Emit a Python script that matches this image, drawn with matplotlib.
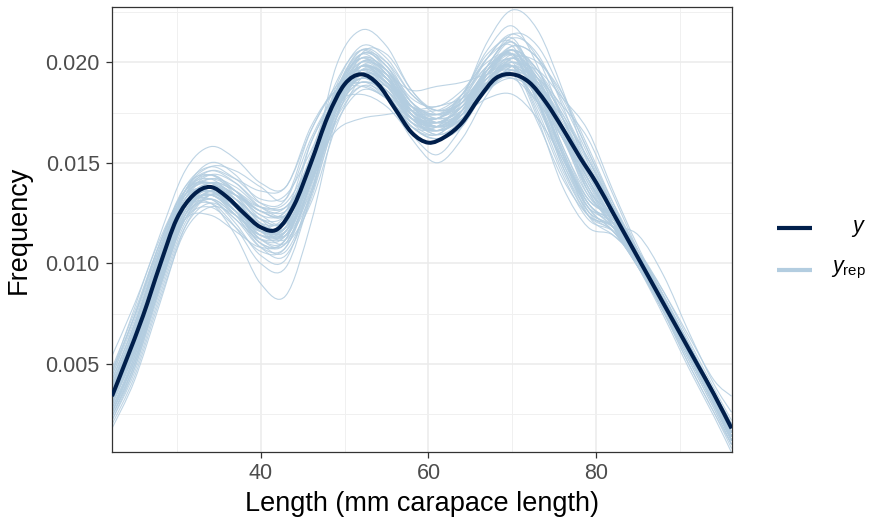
import matplotlib
matplotlib.use("Agg")
import matplotlib.pyplot as plt
from matplotlib.lines import Line2D
from matplotlib.path import Path
from matplotlib.patches import PathPatch
import numpy as np

# ---------------- data ----------------
# observed density y, on a 2-mm grid
x_obs = [22.3, 24, 26, 28, 30, 32, 34, 36, 38, 40, 42, 44, 46, 48, 50, 52, 54, 56, 58,
         60, 62, 64, 66, 68, 70, 72, 74, 76, 78, 80, 82, 84, 86, 88, 90, 92, 94, 96.1]
y_obs = [0.0034, 0.0052, 0.0074, 0.0099, 0.0122, 0.0134, 0.0138, 0.0133, 0.0125, 0.0118,
         0.0117, 0.0129, 0.0150, 0.0173, 0.0189, 0.0194, 0.0189, 0.0177, 0.0165, 0.0160,
         0.0163, 0.0170, 0.0182, 0.0192, 0.0194, 0.0190, 0.0180, 0.0167, 0.0153, 0.0140,
         0.0125, 0.0110, 0.0095, 0.0080, 0.0065, 0.0050, 0.0035, 0.0018]

# replicated densities y_rep (per-mille units), on a 3-mm grid
x_rep = [22.3, 25, 28, 31, 34, 37, 40, 43, 46, 49, 52, 55, 58, 61, 64, 67, 70, 73, 76,
         79, 82, 85, 88, 91, 94, 96.1]
yrep_permille = [
    [2.6, 5.2, 9.0, 12.4, 13.5, 12.6, 11.0, 11.2, 14.6, 18.4, 19.8, 18.9, 17.0, 16.4, 17.6, 19.6, 20.3, 18.0, 15.2, 13.0, 11.8, 10.0, 7.8, 5.4, 3.1, 1.4],
    [4.2, 7.0, 10.6, 13.4, 14.2, 13.6, 12.4, 12.6, 15.2, 18.0, 19.2, 18.6, 17.4, 17.0, 17.8, 19.2, 19.8, 18.6, 16.4, 14.2, 12.2, 10.4, 8.2, 5.8, 3.4, 1.6],
    [3.0, 5.8, 9.6, 12.8, 13.2, 12.0, 10.4, 10.2, 13.6, 17.6, 20.0, 19.6, 17.6, 16.6, 17.4, 19.8, 21.0, 18.8, 15.4, 12.8, 11.6, 9.8, 7.6, 5.2, 2.8, 1.0],
    [3.8, 6.6, 10.2, 13.6, 15.0, 14.4, 13.0, 12.8, 14.8, 17.6, 19.0, 18.2, 16.8, 16.2, 16.8, 18.8, 20.2, 19.4, 17.4, 15.0, 12.8, 10.6, 8.4, 6.0, 3.6, 2.0],
    [2.2, 4.6, 8.4, 11.8, 13.0, 12.2, 10.8, 10.8, 13.8, 17.8, 19.8, 19.2, 17.6, 17.2, 18.0, 19.6, 20.0, 17.4, 14.4, 12.2, 11.6, 10.2, 8.2, 5.8, 3.4, 1.8],
    [4.6, 7.4, 11.0, 13.8, 14.4, 13.4, 12.0, 11.8, 14.4, 18.0, 19.6, 18.8, 17.2, 16.6, 17.2, 18.8, 19.6, 18.8, 17.2, 15.2, 12.6, 10.2, 7.8, 5.4, 3.0, 1.2],
    [3.2, 5.8, 9.4, 12.6, 13.8, 13.4, 12.6, 12.4, 14.6, 17.8, 19.2, 18.4, 16.8, 16.4, 17.6, 19.8, 21.2, 20.4, 17.8, 14.6, 12.0, 9.8, 7.6, 5.4, 3.2, 1.6],
    [3.6, 6.4, 10.2, 13.0, 13.6, 12.6, 11.2, 11.4, 14.4, 18.2, 20.4, 20.0, 18.4, 17.6, 18.0, 19.2, 19.8, 17.8, 15.0, 12.8, 12.0, 10.4, 8.4, 6.0, 3.6, 2.0],
    [2.8, 5.4, 9.0, 12.2, 13.2, 12.4, 11.6, 12.2, 15.0, 18.6, 20.2, 19.2, 17.4, 17.0, 17.8, 19.4, 20.6, 19.6, 17.2, 14.6, 12.4, 10.0, 7.6, 5.0, 2.6, 1.0],
    [4.0, 6.8, 10.4, 13.2, 13.8, 12.8, 11.4, 11.6, 14.8, 18.6, 20.6, 19.8, 17.8, 17.2, 18.4, 20.4, 21.0, 18.6, 15.4, 13.2, 12.4, 10.6, 8.2, 5.6, 3.2, 1.4],
    [3.4, 6.0, 9.8, 13.0, 14.0, 13.4, 12.4, 12.0, 14.2, 17.4, 18.8, 18.2, 17.2, 17.2, 18.0, 19.4, 19.8, 18.8, 16.6, 14.0, 11.8, 9.8, 7.8, 5.6, 3.4, 1.8],
    [2.4, 4.8, 8.6, 12.0, 13.4, 13.0, 11.8, 11.2, 13.4, 17.2, 19.6, 19.4, 17.8, 16.8, 17.4, 19.6, 21.0, 19.0, 15.8, 13.4, 12.2, 10.4, 8.0, 5.6, 3.2, 1.4],
    [4.4, 7.2, 10.8, 13.8, 14.8, 14.2, 13.2, 13.4, 15.6, 18.4, 19.4, 18.2, 16.2, 15.0, 16.2, 18.4, 19.8, 19.0, 17.2, 14.8, 12.4, 10.2, 8.0, 5.8, 3.6, 2.0],
    [3.0, 5.6, 9.2, 12.4, 13.0, 11.8, 10.0, 9.8, 13.4, 18.0, 20.2, 19.6, 18.0, 17.4, 18.2, 19.8, 20.4, 18.0, 15.0, 12.6, 11.8, 10.0, 7.8, 5.4, 3.0, 1.2],
    [3.6, 6.2, 9.8, 13.0, 13.8, 13.0, 11.8, 11.8, 14.4, 17.8, 19.4, 19.0, 17.8, 17.4, 17.8, 19.0, 19.4, 18.0, 15.4, 12.8, 11.6, 10.0, 8.0, 5.8, 3.4, 1.8],
    [2.0, 4.4, 8.2, 11.6, 12.8, 12.4, 11.4, 11.6, 14.2, 17.6, 19.0, 18.4, 16.8, 16.2, 17.0, 19.0, 20.4, 19.6, 17.6, 15.2, 12.8, 10.4, 8.0, 5.6, 3.2, 1.4],
    [3.8, 6.6, 10.2, 13.2, 14.2, 13.8, 12.8, 12.6, 14.6, 17.8, 19.6, 19.0, 17.4, 16.8, 17.6, 19.6, 20.8, 20.2, 18.0, 15.4, 12.8, 10.4, 8.0, 5.6, 3.2, 1.6],
    [3.2, 5.8, 9.6, 12.8, 13.6, 12.6, 11.0, 10.6, 13.4, 17.6, 20.0, 19.4, 17.4, 16.4, 17.2, 19.4, 20.6, 18.4, 15.4, 13.0, 12.0, 10.2, 7.8, 5.4, 3.0, 1.2],
    [4.8, 7.6, 11.0, 13.4, 13.6, 12.6, 11.6, 12.0, 14.8, 18.2, 19.8, 19.2, 17.8, 17.2, 17.6, 18.8, 19.4, 18.6, 16.8, 14.8, 12.6, 10.4, 8.2, 5.8, 3.4, 1.6],
    [2.6, 5.0, 8.8, 12.2, 13.6, 13.4, 12.8, 13.0, 15.2, 18.4, 20.0, 19.2, 17.2, 16.6, 17.6, 19.6, 20.4, 18.0, 14.8, 12.6, 11.8, 10.0, 7.8, 5.4, 3.0, 1.2],
    [3.4, 6.2, 10.0, 13.4, 14.6, 14.2, 13.6, 13.8, 16.6, 18.8, 19.6, 18.8, 17.2, 16.8, 17.4, 19.0, 19.8, 18.6, 16.2, 13.8, 12.0, 10.2, 8.2, 5.8, 3.4, 1.8],
    [3.0, 5.6, 9.4, 12.6, 13.4, 12.4, 10.8, 10.4, 13.2, 17.2, 19.4, 19.0, 17.6, 17.0, 17.8, 19.8, 21.4, 20.8, 18.4, 15.6, 13.0, 10.6, 8.2, 5.6, 3.0, 1.2],
    [4.0, 6.8, 10.4, 13.2, 13.8, 13.0, 11.8, 11.8, 14.4, 18.0, 19.8, 19.0, 17.2, 16.4, 17.0, 18.6, 19.6, 19.2, 17.8, 16.2, 13.4, 10.6, 8.0, 5.6, 3.2, 1.4],
    [2.8, 5.2, 9.0, 12.4, 13.6, 13.2, 12.2, 12.0, 14.2, 17.8, 19.6, 19.0, 17.6, 17.2, 18.2, 20.2, 21.2, 18.8, 15.6, 13.2, 12.2, 10.0, 7.8, 5.4, 3.0, 1.4],
    [3.6, 6.4, 10.0, 12.8, 13.2, 12.2, 11.2, 11.6, 14.8, 18.8, 20.8, 20.2, 18.4, 17.6, 18.2, 19.4, 19.8, 17.6, 14.6, 12.4, 11.8, 9.8, 7.8, 5.6, 3.4, 1.8],
    [4.2, 7.0, 10.6, 13.6, 14.4, 13.6, 12.6, 12.8, 15.0, 18.2, 19.4, 18.6, 17.0, 16.6, 17.6, 19.6, 20.6, 19.6, 17.2, 14.6, 12.4, 10.2, 8.0, 5.6, 3.4, 1.6],
    [4.6, 7.8, 11.4, 14.6, 15.8, 15.2, 14.0, 13.8, 16.8, 18.6, 18.8, 18.2, 17.0, 16.6, 17.2, 18.6, 19.2, 18.4, 16.6, 14.4, 12.4, 10.4, 8.2, 5.8, 3.4, 1.8],
    [2.4, 5.0, 9.2, 12.6, 13.0, 11.4, 9.0, 8.4, 12.0, 17.2, 20.4, 20.4, 18.6, 17.4, 17.8, 19.4, 20.6, 18.6, 15.6, 13.0, 12.0, 10.0, 7.8, 5.4, 3.0, 1.2],
    [3.4, 6.0, 9.8, 13.0, 14.0, 13.6, 12.8, 12.8, 14.6, 16.6, 17.2, 17.4, 17.6, 17.8, 18.2, 19.0, 19.2, 18.0, 16.2, 14.2, 12.2, 10.2, 8.2, 6.0, 3.6, 2.0],
    [3.0, 5.6, 9.4, 12.6, 13.4, 12.6, 11.2, 11.2, 14.6, 19.8, 21.6, 20.8, 18.6, 17.6, 18.0, 19.2, 19.6, 18.4, 16.2, 14.0, 12.0, 10.0, 7.8, 5.6, 3.2, 1.6],
    [3.6, 6.2, 9.8, 12.8, 13.4, 12.4, 11.0, 11.0, 14.0, 17.6, 19.2, 18.4, 16.8, 16.8, 18.2, 21.0, 22.6, 21.6, 18.6, 15.0, 12.4, 10.0, 7.6, 5.2, 2.8, 1.0],
    [3.8, 6.6, 10.2, 13.0, 13.6, 12.8, 11.6, 11.8, 14.6, 18.0, 19.4, 18.6, 17.2, 17.0, 17.4, 18.2, 18.4, 17.2, 15.2, 13.0, 11.8, 10.6, 8.6, 6.2, 3.8, 2.2],
    [3.2, 6.0, 9.8, 13.0, 13.8, 13.0, 11.8, 11.6, 14.0, 17.6, 19.4, 19.0, 17.6, 17.0, 17.8, 19.6, 20.6, 19.4, 16.8, 13.6, 12.0, 11.4, 9.4, 6.6, 4.0, 2.6],
    [3.4, 6.0, 9.6, 12.8, 13.6, 12.8, 11.6, 11.8, 14.6, 18.2, 19.8, 19.0, 17.4, 16.8, 17.2, 18.6, 19.8, 19.6, 18.2, 16.6, 13.6, 10.8, 8.4, 6.0, 3.6, 1.8],
    [1.8, 4.2, 8.0, 11.8, 13.4, 13.0, 12.0, 12.2, 14.8, 18.2, 19.8, 19.2, 17.4, 16.6, 17.4, 19.4, 20.4, 19.2, 16.8, 14.2, 12.0, 9.8, 7.4, 4.8, 2.4, 0.6],
    [5.4, 8.0, 11.2, 13.6, 14.0, 13.2, 12.2, 12.4, 15.0, 18.0, 19.2, 18.4, 16.8, 16.2, 17.0, 18.8, 20.0, 19.2, 17.4, 15.2, 12.8, 10.6, 8.6, 6.4, 4.2, 3.4],
    [3.0, 5.8, 9.8, 13.2, 14.4, 14.0, 13.0, 13.2, 16.6, 18.6, 19.0, 18.8, 17.8, 17.6, 18.4, 19.8, 20.4, 19.2, 16.4, 13.6, 11.8, 10.0, 8.0, 5.6, 3.2, 1.4],
    [2.2, 4.8, 8.8, 12.4, 13.8, 13.4, 12.0, 11.4, 13.6, 17.4, 19.8, 19.6, 18.0, 17.2, 17.6, 19.2, 19.8, 17.2, 13.8, 11.8, 11.4, 10.0, 8.0, 5.8, 3.4, 1.6],
    [4.4, 7.4, 11.0, 13.6, 14.0, 12.8, 11.2, 11.0, 14.0, 18.4, 20.6, 20.0, 18.0, 17.0, 17.4, 18.8, 19.6, 18.8, 16.8, 14.6, 12.4, 10.2, 8.0, 5.6, 3.2, 1.4],
    [3.2, 6.0, 9.8, 13.0, 13.8, 13.2, 12.2, 12.0, 14.0, 17.0, 18.6, 18.2, 17.0, 16.8, 18.0, 20.2, 21.4, 20.2, 17.2, 14.2, 12.0, 10.0, 7.8, 5.4, 3.0, 1.2],
    [3.8, 6.4, 9.8, 12.2, 12.4, 11.6, 10.8, 11.2, 14.6, 18.6, 20.4, 19.4, 17.4, 16.8, 17.6, 19.0, 19.4, 17.0, 14.2, 12.4, 11.8, 10.4, 8.4, 6.0, 3.6, 2.0],
    [2.6, 5.4, 9.4, 12.8, 14.0, 13.6, 12.6, 12.4, 14.8, 18.4, 20.2, 19.6, 17.8, 17.0, 17.6, 19.4, 20.8, 20.2, 18.2, 15.6, 12.8, 10.2, 7.6, 5.0, 2.6, 0.8],
    [3.6, 6.4, 10.2, 13.4, 14.4, 13.6, 12.2, 11.8, 16.0, 18.0, 18.4, 17.8, 16.4, 15.4, 16.8, 19.0, 20.0, 19.0, 16.8, 14.4, 12.2, 10.0, 7.8, 5.6, 3.4, 1.8],
    [4.0, 6.6, 10.0, 12.8, 13.4, 12.6, 11.8, 12.4, 15.4, 19.0, 20.6, 19.6, 17.6, 16.8, 17.2, 18.6, 19.4, 18.6, 16.8, 14.8, 12.8, 10.6, 8.2, 5.8, 3.4, 1.6],
    [2.8, 5.4, 9.2, 12.6, 13.8, 13.2, 11.8, 11.4, 14.0, 17.8, 19.6, 19.2, 17.8, 17.4, 18.4, 20.2, 20.8, 18.2, 14.8, 12.4, 11.6, 9.8, 7.8, 5.6, 3.2, 1.4],
    [3.4, 6.2, 10.2, 13.6, 14.8, 14.6, 13.8, 13.2, 16.2, 18.4, 19.0, 18.6, 17.2, 16.8, 17.6, 19.4, 20.2, 19.0, 16.6, 14.2, 12.2, 10.2, 8.0, 5.6, 3.2, 1.4],
    [3.0, 5.6, 9.2, 12.2, 12.8, 11.8, 10.6, 10.8, 14.0, 18.2, 20.4, 19.8, 18.0, 17.4, 18.0, 19.6, 20.4, 18.2, 15.2, 12.8, 12.2, 10.4, 8.2, 5.8, 3.4, 1.6],
    [4.2, 7.0, 10.6, 13.4, 14.0, 13.0, 11.6, 11.4, 14.0, 17.8, 19.8, 19.2, 17.4, 16.6, 17.2, 19.0, 20.2, 18.8, 16.2, 13.6, 12.4, 10.2, 7.8, 5.4, 3.0, 1.2],
    [2.4, 5.0, 8.8, 12.2, 13.4, 12.8, 11.6, 11.6, 14.4, 18.4, 20.4, 19.8, 18.2, 17.8, 18.6, 20.0, 20.4, 18.6, 15.4, 12.4, 11.4, 10.2, 8.2, 5.8, 3.4, 1.6],
    [3.6, 6.4, 10.4, 13.6, 14.6, 14.0, 12.8, 12.4, 14.2, 17.2, 18.8, 18.4, 17.2, 17.0, 17.8, 19.4, 20.0, 18.8, 16.4, 13.8, 11.8, 10.0, 8.0, 5.8, 3.6, 2.0],
    [3.2, 5.8, 9.4, 12.4, 13.2, 12.4, 11.4, 11.8, 14.8, 18.6, 20.2, 19.4, 17.6, 16.8, 17.2, 18.8, 20.2, 20.0, 18.4, 15.8, 13.0, 10.4, 8.0, 5.6, 3.2, 1.4],
    [4.6, 7.4, 10.8, 13.4, 14.0, 13.4, 12.6, 12.6, 16.0, 18.4, 19.4, 18.8, 17.6, 17.4, 18.0, 19.4, 20.2, 19.2, 16.6, 13.8, 11.8, 10.0, 8.0, 5.8, 3.6, 2.0],
    [2.6, 5.2, 9.0, 12.4, 13.6, 13.0, 11.6, 11.0, 13.0, 16.8, 19.2, 19.2, 17.8, 17.0, 17.4, 19.2, 20.6, 18.8, 15.8, 13.2, 12.2, 10.0, 7.8, 5.4, 3.0, 1.2],
    [3.8, 6.8, 10.6, 13.6, 14.2, 13.2, 11.8, 11.6, 14.2, 18.0, 19.8, 19.4, 18.6, 18.8, 19.0, 19.4, 19.6, 18.2, 15.6, 12.6, 11.6, 10.2, 8.2, 5.8, 3.4, 1.6],
    [3.0, 5.8, 9.8, 13.0, 13.8, 12.8, 11.4, 11.4, 14.4, 18.2, 20.0, 19.4, 17.6, 17.2, 18.4, 20.6, 21.8, 19.8, 16.4, 13.4, 12.2, 10.0, 7.8, 5.4, 3.0, 1.2],
    [4.0, 6.6, 10.0, 12.8, 13.4, 12.6, 11.6, 11.8, 14.6, 18.0, 19.4, 18.8, 17.4, 16.8, 17.4, 19.0, 19.8, 19.0, 17.0, 14.8, 12.6, 10.4, 8.2, 5.8, 3.4, 1.8],
]

x_ticks = [40, 60, 80]
y_ticks = [0.005, 0.010, 0.015, 0.020]
y_tick_labels = ["0.005", "0.010", "0.015", "0.020"]
legend_labels = [r"$y$", r"$y_{\mathrm{rep}}$"]

# ---------------- style ----------------
DARK = "#011f4b"
LIGHT = "#b3cde0"
plt.rcParams["font.family"] = ["Liberation Sans", "DejaVu Sans"]
plt.rcParams["mathtext.fontset"] = "custom"
plt.rcParams["mathtext.it"] = "Liberation Sans:italic"
plt.rcParams["mathtext.rm"] = "Liberation Sans"


def smooth_path(xs, ys):
    """Smooth (Catmull-Rom -> cubic Bezier) path through the given data points."""
    p = np.column_stack([np.asarray(xs, float), np.asarray(ys, float)])
    ext = np.vstack([p[0], p, p[-1]])
    verts = [p[0]]
    codes = [Path.MOVETO]
    for i in range(len(p) - 1):
        p0, p1, p2, p3 = ext[i], ext[i + 1], ext[i + 2], ext[i + 3]
        verts += [p1 + (p2 - p0) / 6.0, p2 - (p3 - p1) / 6.0, p2]
        codes += [Path.CURVE4] * 3
    return Path(verts, codes)


fig = plt.figure(figsize=(8.69, 5.22), dpi=100)
ax = fig.add_axes([0.1285, 0.1347, 0.842 - 0.1285, 0.986 - 0.1347])

for rep in yrep_permille:
    ax.add_patch(PathPatch(smooth_path(x_rep, np.array(rep) / 1000.0), fill=False,
                           edgecolor=LIGHT, lw=0.8, alpha=0.85, zorder=2,
                           joinstyle="round"))
ax.add_patch(PathPatch(smooth_path(x_obs, y_obs), fill=False, edgecolor=DARK,
                       lw=2.9, zorder=3, joinstyle="round", capstyle="butt"))

ax.set_xlim(22.26, 96.12)
ax.set_ylim(0.00064, 0.02273)

ax.set_xticks(x_ticks)
ax.set_xticks([30, 50, 70, 90], minor=True)
ax.set_yticks(y_ticks)
ax.set_yticklabels(y_tick_labels)
ax.set_yticks([0.0025, 0.0075, 0.0125, 0.0175, 0.0225], minor=True)

ax.grid(which="major", color="#EBEBEB", lw=1.1, zorder=0)
ax.grid(which="minor", color="#F0F0F0", lw=0.7, zorder=0)
ax.set_axisbelow(True)

for s in ax.spines.values():
    s.set_color("#333333")
    s.set_linewidth(0.9)

ax.tick_params(which="major", length=4.5, width=0.9, color="#333333",
               labelsize=15.5, labelcolor="#4D4D4D", pad=4)
ax.tick_params(which="minor", length=0)

ax.set_xlabel("Length (mm carapace length)", fontsize=19.5, color="black", labelpad=5)
ax.set_ylabel("Frequency", fontsize=19.5, color="black", labelpad=10)

# legend drawn in figure coordinates
W, H = 869.0, 522.0
fig.add_artist(Line2D([776.7 / W, 811.7 / W], [1 - 228.3 / H, 1 - 228.3 / H],
                      color=DARK, lw=3.0, solid_capstyle="butt"))
fig.add_artist(Line2D([776.7 / W, 811.7 / W], [1 - 270.3 / H, 1 - 270.3 / H],
                      color=LIGHT, lw=3.0, solid_capstyle="butt"))
fig.text(866 / W, 1 - 228.3 / H, legend_labels[0], fontsize=15.5, ha="right", va="center")
fig.text(866 / W, 1 - 270.3 / H, legend_labels[1], fontsize=15.5, ha="right", va="center")

fig.savefig("out.png", dpi=100)
